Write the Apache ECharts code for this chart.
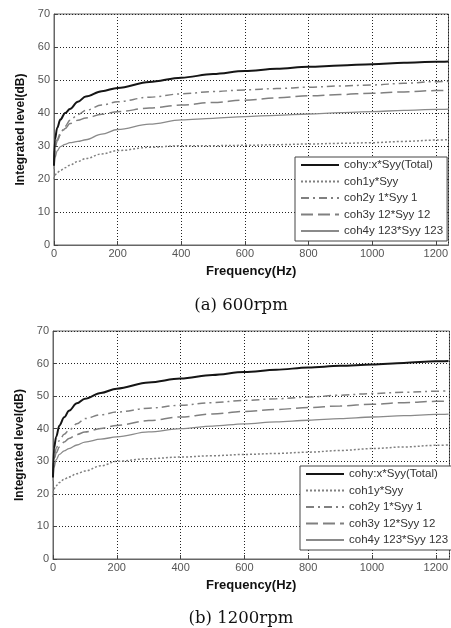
<!DOCTYPE html>
<html><head><meta charset="utf-8">
<script src="https://cdn.jsdelivr.net/npm/echarts@6/dist/echarts.min.js"></script>
<style>html,body{margin:0;padding:0;background:#fff}#c{width:451px;height:628px}</style>
</head><body><div id="c"></div>
<script>
var freq = [0, 3, 10, 20, 35, 50, 75, 100, 150, 200, 300, 400, 500, 600, 700, 800, 900, 1000, 1100, 1200, 1240];
var seriesNames = ['cohy:x*Syy(Total)', 'coh1y*Syy', 'coh2y 1*Syy 1', 'coh3y 12*Syy 12', 'coh4y 123*Syy 123'];
var xTicks = [0, 200, 400, 600, 800, 1000, 1200];
var yTicks = [0, 10, 20, 30, 40, 50, 60, 70];
var captions = ['(a) 600rpm', '(b) 1200rpm'];

// 600 rpm
var a_total = [24, 32, 35.5, 38, 40, 41.2, 43.4, 45, 46.6, 47.6, 49.4, 50.7, 51.8, 52.7, 53.4, 54.0, 54.4, 54.8, 55.2, 55.5, 55.6];
var a_coh1  = [20, 21.2, 21.9, 22.6, 23.4, 24.2, 25.3, 26.2, 27.6, 28.6, 29.6, 30.1, 30.1, 30.2, 30.4, 30.6, 30.8, 31.0, 31.4, 31.8, 31.9];
var a_coh2  = [26, 30, 32, 33.8, 36, 37.8, 39.5, 40.8, 42.4, 43.4, 44.8, 45.8, 46.5, 47, 47.4, 47.8, 48.2, 48.5, 49, 49.5, 49.6];
var a_coh3  = [25, 29, 31.5, 33.3, 35.3, 36.8, 37.8, 38.5, 39.6, 40.4, 41.5, 42.4, 43.2, 43.9, 44.6, 45.2, 45.6, 46, 46.4, 46.8, 46.9];
var a_coh4  = [23, 26.5, 28.5, 29.8, 30.5, 31, 31.4, 31.9, 33.6, 35, 36.6, 37.9, 38.4, 38.9, 39.3, 39.7, 40.1, 40.4, 40.8, 41.1, 41.2];

// 1200 rpm
var b_total = [25, 34, 37.5, 41, 43.5, 45.5, 47.8, 49.2, 51, 52.3, 54.2, 55.4, 56.5, 57.4, 58.1, 58.8, 59.3, 59.7, 60.2, 60.7, 60.8];
var b_coh1  = [19, 21.5, 22.5, 23.5, 24.5, 25.2, 26.2, 27, 28.6, 30, 30.8, 31.3, 31.7, 32.1, 32.4, 32.8, 33.3, 33.9, 34.4, 34.9, 35];
var b_coh2  = [27, 31, 34, 36.4, 38.3, 39.5, 41.5, 43.1, 44.3, 45.1, 46.3, 47.2, 48, 48.7, 49.2, 49.7, 50.3, 50.8, 51.2, 51.5, 51.6];
var b_coh3  = [26, 30, 32.6, 34.4, 35.9, 37, 38.2, 39, 40.1, 41, 42.5, 43.6, 44.5, 45.3, 45.9, 46.5, 47, 47.5, 48, 48.4, 48.5];
var b_coh4  = [24, 28, 30.5, 32.1, 33.2, 33.9, 35, 35.9, 36.8, 37.5, 39, 40, 40.8, 41.5, 42.1, 42.6, 43.1, 43.6, 44, 44.4, 44.5];

var styles = [
  {color: '#151515', width: 2, type: 'solid'},
  {color: '#808080', width: 1.5, type: [2, 2]},
  {color: '#808080', width: 1.5, type: [8, 4, 2, 4]},
  {color: '#808080', width: 1.5, type: [12, 5]},
  {color: '#8a8a8a', width: 1.3, type: 'solid'}
];

function pairs(vals) { return freq.map(function (f, i) { return [f, vals[i]]; }); }

var font = 'Liberation Sans, Arial, sans-serif';
function xAxisOpt(idx, max) {
  return {
    gridIndex: idx, type: 'value', min: xTicks[0], max: max, interval: xTicks[1] - xTicks[0],
    name: 'Frequency(Hz)', nameLocation: 'middle', nameGap: 20,
    nameTextStyle: {fontFamily: font, fontWeight: 'bold', fontSize: 13, color: '#111'},
    axisLine: {show: true, lineStyle: {color: '#666', width: 1}},
    axisTick: {show: true, inside: true, length: 4, lineStyle: {color: '#444'}},
    axisLabel: {margin: 3, fontFamily: font, fontSize: 11, color: '#555', showMaxLabel: false,
      formatter: function (v) { return String(v); }},
    splitLine: {show: true, lineStyle: {color: '#222', width: 1, type: [1, 2]}}
  };
}
function yAxisOpt(idx) {
  return {
    gridIndex: idx, type: 'value', min: yTicks[0], max: yTicks[yTicks.length - 1], interval: yTicks[1] - yTicks[0],
    name: 'Integrated level(dB)', nameLocation: 'middle', nameGap: 24,
    nameTextStyle: {fontFamily: font, fontWeight: 'bold', fontSize: 12, color: '#111'},
    axisLine: {show: true, lineStyle: {color: '#666', width: 1}},
    axisTick: {show: true, inside: true, length: 4, lineStyle: {color: '#444'}},
    axisLabel: {margin: 4, fontFamily: font, fontSize: 11, color: '#555'},
    splitLine: {show: true, lineStyle: {color: '#222', width: 1, type: [1, 2]}}
  };
}
function mkSeries(idx, arrs) {
  return arrs.map(function (v, i) {
    return {
      type: 'line', name: seriesNames[i], xAxisIndex: idx, yAxisIndex: idx,
      data: pairs(v), symbol: 'none', smooth: 0.35, smoothMonotone: 'x', clip: true,
      lineStyle: styles[i], itemStyle: {color: styles[i].color}, z: 10 - i
    };
  });
}
function legendOpt(left, top) {
  return {
    data: seriesNames, orient: 'vertical', left: left, top: top,
    itemWidth: 38, itemHeight: 10, itemGap: 4.5,
    padding: [2, 4, 4, 5], backgroundColor: '#fff', borderColor: '#444', borderWidth: 1, borderRadius: 0,
    itemStyle: {opacity: 0},
    textStyle: {fontFamily: font, fontSize: 11.5, color: '#333'},
    selectedMode: false
  };
}

var chart = echarts.init(document.getElementById('c'), null, {renderer: 'canvas'});
chart.setOption({
  animation: false,
  backgroundColor: '#fff',
  title: [
    {text: captions[0], left: 236, top: 292, textAlign: 'center', textStyle: {fontFamily: 'DejaVu Serif, serif', fontWeight: 'normal', fontSize: 16.5, color: '#111'}},
    {text: captions[1], left: 236, top: 605, textAlign: 'center', textStyle: {fontFamily: 'DejaVu Serif, serif', fontWeight: 'normal', fontSize: 16.5, color: '#111'}}
  ],
  grid: [
    {left: 54, top: 14, width: 399, height: 231, show: true, borderColor: '#666', borderWidth: 1, backgroundColor: 'transparent'},
    {left: 53, top: 331, width: 400, height: 228, show: true, borderColor: '#666', borderWidth: 1, backgroundColor: 'transparent'}
  ],
  xAxis: [xAxisOpt(0, 1240), xAxisOpt(1, 1243)],
  yAxis: [yAxisOpt(0), yAxisOpt(1)],
  legend: [legendOpt(295, 157), legendOpt(300, 466)],
  series: mkSeries(0, [a_total, a_coh1, a_coh2, a_coh3, a_coh4]).concat(mkSeries(1, [b_total, b_coh1, b_coh2, b_coh3, b_coh4]))
});
</script></body></html>
